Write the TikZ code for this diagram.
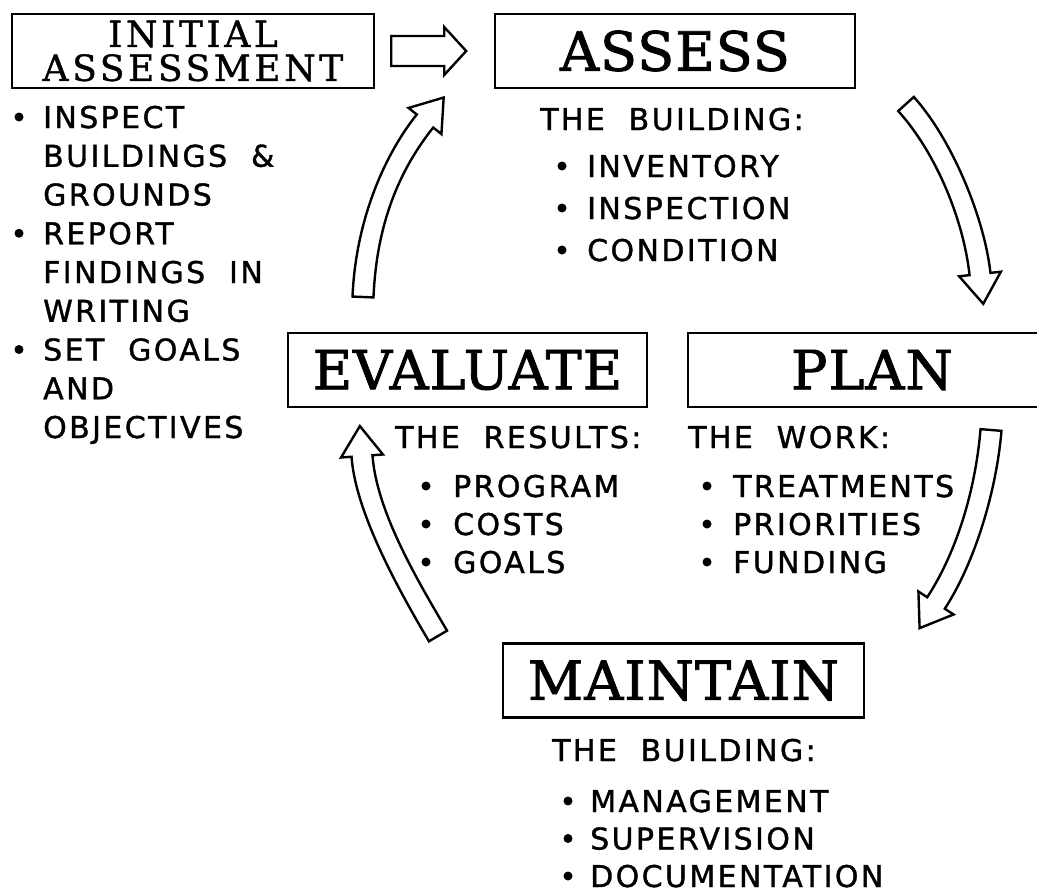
\documentclass[tikz,border=0pt]{standalone}
\usepackage{fontspec}
\usetikzlibrary{calc}
\newfontfamily\titlefont{DejaVu Serif}[FakeBold=1.6,LetterSpace=2]
\newfontfamily\initfont{DejaVu Serif}[FakeBold=1,LetterSpace=10]
\newfontfamily\letterfont{DejaVu Sans}[FakeBold=1.2,LetterSpace=8,WordSpace=2]
% hollow curved arrow: tail, two controls, head base
\def\shaft{10.5pt}\def\wing{21pt}\def\headlen{30pt}
\newcommand\cyclearrow[4]{%
  \coordinate (l0) at ($(#1)!\shaft!90:(#2)$);
  \coordinate (r0) at ($(#1)!\shaft!-90:(#2)$);
  \coordinate (l3) at ($(#4)!\shaft!-90:(#3)$);
  \coordinate (r3) at ($(#4)!\shaft!90:(#3)$);
  \draw[blockarrow] (l0) .. controls ($(#2)+(l0)-(#1)$) and ($(#3)+(l3)-(#4)$) .. (l3)
    -- ($(#4)!\wing!-90:(#3)$) -- ($(#4)!-\headlen!(#3)$) -- ($(#4)!\wing!90:(#3)$)
    -- (r3) .. controls ($(#3)+(r3)-(#4)$) and ($(#2)+(r0)-(#1)$) .. (r0) -- cycle;
}
\tikzset{
  stage/.style={draw, line width=2.4pt, inner sep=0pt, minimum height=74pt, font=\titlefont\fontsize{54}{54}\selectfont},
  item/.style={anchor=base west, inner sep=0pt, font=\letterfont\fontsize{30}{39}\selectfont},
  blockarrow/.style={draw, line width=2.4pt, fill=white},
}
\begin{document}
\begin{tikzpicture}[x=1pt,y=-1pt]
\fill[white] (0,0) rectangle (1037,894);
\useasboundingbox (0,0) rectangle (1037,894);
% the five boxes
\node[stage, minimum width=362pt, align=center, font=\initfont\fontsize{36}{34}\selectfont] (init) at (193,51) {INITIAL\\ASSESSMENT};
\node[stage, minimum width=360pt] (assess) at (675,51) {ASSESS};
\node[stage, minimum width=359pt] (evaluate) at (467.5,370) {EVALUATE};
\node[stage, minimum width=368pt] (plan) at (872,370) {PLAN};
\node[stage, minimum width=361pt] (maintain) at (683.5,680.5) {MAINTAIN};
% straight arrow into the cycle
\draw[blockarrow] ([shift={(16,-15)}]init.east) -- ++(53,0) -- ++(0,-9) -- ++(22,24)
  -- ++(-22,24) -- ++(0,-9) -- ++(-53,0) -- cycle;
% initial assessment list
\foreach \t [count=\i from 0] in {INSPECT, BUILDINGS \&, GROUNDS, REPORT, FINDINGS IN, WRITING, SET GOALS, AND, OBJECTIVES}
  \node[item] (ia-\i) at (43,{128+38.75*\i}) {\t};
\foreach \i in {0,3,6} \fill (ia-\i.base west) ++(-24,-11) circle (4.5pt);
% assess
\node[item] (as-head) at (540,130) {THE BUILDING:};
\foreach \t [count=\i from 0] in {INVENTORY, INSPECTION, CONDITION}{
  \node[item] (as-\i) at (587,{177+42*\i}) {\t};
  \fill (as-\i.base west) ++(-25,-11) circle (4.5pt);}
% evaluate
\node[item] (ev-head) at (395,448) {THE RESULTS:};
\foreach \t [count=\i from 0] in {PROGRAM, COSTS, GOALS}{
  \node[item] (ev-\i) at (453,{497+38*\i}) {\t};
  \fill (ev-\i.base west) ++(-27,-11) circle (4.5pt);}
% plan
\node[item] (pl-head) at (688,448) {THE WORK:};
\foreach \t [count=\i from 0] in {TREATMENTS, PRIORITIES, FUNDING}{
  \node[item] (pl-\i) at (733,{497+38*\i}) {\t};
  \fill (pl-\i.base west) ++(-26,-11) circle (4.5pt);}
% maintain
\node[item] (mt-head) at (552,761) {THE BUILDING:};
\foreach \t [count=\i from 0] in {MANAGEMENT, SUPERVISION, DOCUMENTATION}{
  \node[item] (mt-\i) at (590,{812+37.5*\i}) {\t};
  \fill (mt-\i.base west) ++(-22,-11) circle (4.5pt);}
% the cycle arrows
\coordinate (tl-t) at (363,297); \coordinate (tl-a) at (366,225);
\coordinate (tl-b) at (390,165); \coordinate (tl-h) at (425,121);
\coordinate (tr-t) at (906,104); \coordinate (tr-a) at (944,146);
\coordinate (tr-b) at (974,219); \coordinate (tr-h) at (980,274);
\coordinate (br-t) at (991,430); \coordinate (br-a) at (986,490);
\coordinate (br-b) at (966,557); \coordinate (br-h) at (936,603);
\coordinate (bl-t) at (438,636); \coordinate (bl-a) at (408,585);
\coordinate (bl-b) at (366,512); \coordinate (bl-h) at (362,456);
\cyclearrow{tl-t}{tl-a}{tl-b}{tl-h}
\cyclearrow{tr-t}{tr-a}{tr-b}{tr-h}
\cyclearrow{br-t}{br-a}{br-b}{br-h}
\cyclearrow{bl-t}{bl-a}{bl-b}{bl-h}
\end{tikzpicture}
\end{document}
